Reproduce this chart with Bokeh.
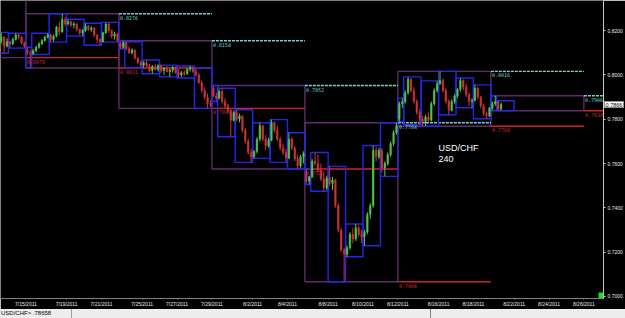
from datetime import date
from bokeh.plotting import figure
from bokeh.models import (ColumnDataSource, FixedTicker, PrintfTickFormatter, Label,
                          BoxAnnotation, Div, Range1d)
from bokeh.layouts import column
from bokeh.embed import file_html
from bokeh.resources import INLINE
from bokeh.core.properties import value

symbol = "USD/CHF"
timeframe = "240"
status_text = "USD/CHF> .78658"

# trading days shown (4-hour bars, Sunday sessions are short)
day_dates = ["2011-07-14", "2011-07-15", "2011-07-17", "2011-07-18", "2011-07-19", "2011-07-20",
             "2011-07-21", "2011-07-22", "2011-07-24", "2011-07-25", "2011-07-26", "2011-07-27",
             "2011-07-28", "2011-07-29", "2011-07-31", "2011-08-01", "2011-08-02", "2011-08-03",
             "2011-08-04", "2011-08-05", "2011-08-07", "2011-08-08", "2011-08-09", "2011-08-10",
             "2011-08-11", "2011-08-12", "2011-08-14", "2011-08-15", "2011-08-16", "2011-08-17",
             "2011-08-18", "2011-08-19", "2011-08-21", "2011-08-22"]
bars_in_day = [6, 6, 2, 6, 6, 6, 6, 6, 2, 6, 6, 6, 6, 6, 2, 6, 6, 6, 6, 6,
               2, 6, 6, 6, 6, 6, 2, 6, 6, 6, 6, 6, 2, 2]

# 4h OHLC in pips (0.xxxx * 10000)
opens = [8150, 8140, 8120, 8150, 8170, 8130,  8150, 8140, 8160, 8180, 8170, 8145,  8110, 8100,
         8095, 8110, 8125, 8140, 8155, 8170,  8180, 8160, 8175, 8215, 8195, 8250,
         8230, 8240, 8225, 8230, 8205, 8190,  8200, 8220, 8205, 8212, 8180, 8160,
         8150, 8190, 8230, 8200, 8175, 8185,  8140, 8125,
         8145, 8118, 8100, 8112, 8075, 8055,  8045, 8055, 8040, 8020, 8038, 8025,
         8042, 8020, 8030, 8015, 8022, 8035,  8012, 8000, 8010, 8005, 8025, 8032,
         8015, 8000, 7965, 7930, 7900, 7870,  7940, 7905,
         7895, 7925, 7880, 7860, 7840, 7795,  7830, 7800, 7815, 7750, 7700, 7650,
         7630, 7655, 7710, 7770, 7710, 7680,  7705, 7785, 7750, 7710, 7670, 7650,
         7625, 7710, 7670, 7620, 7590, 7630,  7560, 7520,
         7540, 7610, 7600, 7570, 7530, 7490,  7535, 7510, 7525, 7410, 7300, 7210,
         7190, 7220, 7280, 7260, 7310, 7280,  7270, 7290, 7370, 7410, 7660, 7630,
         7660, 7580, 7600, 7640, 7690, 7740,  7800, 7870,
         7880, 7920, 7980, 7930, 7880, 7830,  7800, 7790, 7810, 7795, 7870, 7930,
         7960, 7975, 7930, 7880, 7840, 7880,  7905, 7935, 7975, 7945, 7910, 7880,
         7885, 7940, 7900, 7860, 7825, 7815,  7850, 7870,  7880, 7845]
highs = [8160, 8150, 8170, 8192, 8175, 8165,  8152, 8168, 8188, 8186, 8175, 8150,  8125, 8110,
         8115, 8132, 8148, 8162, 8178, 8188,  8185, 8182, 8222, 8240, 8276, 8262,
         8251, 8245, 8240, 8235, 8210, 8208,  8233, 8225, 8220, 8215, 8185, 8165,
         8195, 8237, 8235, 8205, 8195, 8190,  8150, 8154,
         8150, 8130, 8120, 8115, 8082, 8065,  8062, 8067, 8050, 8045, 8050, 8048,
         8044, 8035, 8040, 8028, 8040, 8038,  8025, 8018, 8022, 8030, 8040, 8035,
         8031, 8008, 7975, 7945, 7915, 7885,  7952, 7920,
         7935, 7940, 7895, 7870, 7845, 7838,  7843, 7825, 7818, 7760, 7712, 7665,
         7660, 7720, 7784, 7775, 7730, 7715,  7798, 7790, 7770, 7720, 7690, 7665,
         7739, 7720, 7680, 7640, 7640, 7655,  7575, 7545,
         7620, 7650, 7640, 7600, 7560, 7545,  7587, 7540, 7530, 7420, 7310, 7220,
         7230, 7290, 7310, 7327, 7320, 7300,  7300, 7380, 7420, 7681, 7675, 7670,
         7670, 7610, 7650, 7700, 7750, 7784,  7880, 7895,
         7930, 7991, 7985, 7945, 7890, 7845,  7815, 7820, 7830, 7880, 7940, 7973,
         8016, 7985, 7940, 7890, 7890, 7915,  7940, 7986, 7980, 7960, 7920, 7895,
         7955, 7945, 7905, 7870, 7835, 7855,  7880, 7906,  7883, 7875]
lows = [8120, 8100, 8110, 8140, 8098, 8125,  8121, 8135, 8155, 8160, 8138, 8122,  8090, 8031,
        8092, 8102, 8118, 8135, 8150, 8165,  8148, 8150, 8170, 8180, 8190, 8220,
        8225, 8215, 8210, 8195, 8180, 8175,  8195, 8198, 8195, 8170, 8145, 8134,
        8148, 8185, 8190, 8165, 8160, 8150,  8118, 8120,
        8110, 8095, 8092, 8070, 8050, 8033,  8030, 8035, 8010, 8005, 8020, 8015,
        8010, 8000, 8012, 7991, 8010, 8005,  7986, 7990, 7995, 8000, 8015, 8010,
        7995, 7960, 7920, 7890, 7849, 7855,  7900, 7880,
        7890, 7870, 7850, 7830, 7721, 7790,  7790, 7785, 7740, 7690, 7640, 7605,
        7623, 7645, 7700, 7700, 7660, 7670,  7700, 7740, 7700, 7660, 7640, 7605,
        7620, 7660, 7610, 7575, 7580, 7600,  7510, 7505,
        7535, 7590, 7560, 7520, 7475, 7480,  7500, 7480, 7400, 7290, 7200, 7066,
        7179, 7210, 7240, 7250, 7270, 7240,  7229, 7280, 7350, 7400, 7610, 7620,
        7560, 7542, 7590, 7630, 7680, 7730,  7790, 7850,
        7870, 7910, 7920, 7870, 7820, 7775,  7768, 7770, 7785, 7790, 7860, 7920,
        7955, 7920, 7870, 7820, 7835, 7870,  7895, 7925, 7930, 7900, 7860, 7852,
        7880, 7890, 7850, 7815, 7802, 7810,  7840, 7860,  7838, 7840]
closes = [8140, 8120, 8150, 8170, 8130, 8150,  8140, 8160, 8180, 8170, 8145, 8130,  8100, 8095,
          8110, 8125, 8140, 8155, 8170, 8180,  8160, 8175, 8215, 8195, 8250, 8230,
          8240, 8225, 8230, 8205, 8190, 8200,  8220, 8205, 8212, 8180, 8160, 8150,
          8190, 8230, 8200, 8175, 8185, 8155,  8125, 8145,
          8118, 8100, 8112, 8075, 8055, 8045,  8055, 8040, 8020, 8038, 8025, 8042,
          8020, 8030, 8015, 8022, 8035, 8012,  8000, 8010, 8005, 8025, 8032, 8015,
          8000, 7965, 7930, 7900, 7870, 7865,  7905, 7895,
          7925, 7880, 7860, 7840, 7795, 7830,  7800, 7815, 7750, 7700, 7650, 7630,
          7655, 7710, 7770, 7710, 7680, 7705,  7785, 7750, 7710, 7670, 7650, 7625,
          7710, 7670, 7620, 7590, 7630, 7645,  7520, 7540,
          7610, 7600, 7570, 7530, 7490, 7535,  7510, 7525, 7410, 7300, 7210, 7190,
          7220, 7280, 7260, 7310, 7280, 7270,  7290, 7370, 7410, 7660, 7630, 7660,
          7580, 7600, 7640, 7690, 7740, 7770,  7870, 7880,
          7920, 7980, 7930, 7880, 7830, 7800,  7790, 7810, 7795, 7870, 7930, 7960,
          7975, 7930, 7880, 7840, 7880, 7905,  7935, 7975, 7945, 7910, 7880, 7885,
          7940, 7900, 7860, 7825, 7815, 7850,  7870, 7880,  7845, 7866]

# weekly ranges (Sunday open dates)
week_starts = ["2011-07-10", "2011-07-17", "2011-07-24", "2011-07-31",
               "2011-08-07", "2011-08-14", "2011-08-21"]
week_high = [0.8405, 0.8276, 0.8154, 0.7952, 0.7784, 0.8016, 0.7906]
week_low = [0.8078, 0.8031, 0.7849, 0.7575, 0.7066, 0.7768, 0.7838]

tick_dates = ["7/15/2011", "7/19/2011", "7/21/2011", "7/25/2011", "7/27/2011", "7/29/2011",
              "8/2/2011", "8/4/2011", "8/8/2011", "8/10/2011", "8/12/2011", "8/16/2011",
              "8/18/2011", "8/22/2011", "8/24/2011", "8/26/2011"]
price_ticks = [0.70, 0.72, 0.74, 0.76, 0.78, 0.80, 0.82]

BASE = date(2011, 7, 15)
SLOT = {0: 0, 2: 6, 3: 8, 4: 14, 5: 20, 6: 26}
WEEK = 32
Y0, Y1 = 0.69906, 0.83359
FRAME_H = 300
FIG_H = 309


def to_date(s):
    if "/" in s:
        m, d, y = s.split("/")
        return date(int(y), int(m), int(d))
    return date.fromisoformat(s)


def bar_start(s):
    weeks, rem = divmod((to_date(s) - BASE).days, 7)
    return weeks * WEEK + SLOT[rem]


P = 10000.0
xs = []
dbox = dict(left=[], right=[], top=[], bottom=[])
i = 0
for d, n in zip(day_dates, bars_in_day):
    s = bar_start(d)
    slot = 2 if to_date(d).weekday() == 6 else 6
    dbox["left"].append(s)
    dbox["right"].append(s + slot)
    dbox["top"].append(max(highs[i:i + n]) / P)
    dbox["bottom"].append(min(lows[i:i + n]) / P)
    for k in range(n):
        xs.append(s + k + 0.5)
    i += n

GREEN = "#4cc84c"
RED = "#d23232"
inc = dict(x=[], top=[], bottom=[], hi=[], lo=[])
dec = dict(x=[], top=[], bottom=[], hi=[], lo=[])
for x, op, hi, lo, cl in zip(xs, opens, highs, lows, closes):
    tgt = inc if cl >= op else dec
    tgt["x"].append(x)
    tgt["top"].append(max(op, cl) / P)
    tgt["bottom"].append(min(op, cl) / P)
    tgt["hi"].append(hi / P)
    tgt["lo"].append(lo / P)

wk_left = [bar_start(w) for w in week_starts]
wk_right = [w + WEEK for w in wk_left]

lv = dict(x0=[], x1=[], hi=[], lo=[])
tx_hi = dict(x=[], y=[], t=[])
tx_lo = dict(x=[], y=[], t=[])
for k in range(len(week_starts)):
    lv["x0"].append(wk_right[k])
    lv["x1"].append(wk_right[k] + WEEK)
    lv["hi"].append(week_high[k])
    lv["lo"].append(week_low[k])
    if Y0 < week_high[k] < Y1:
        tx_hi["x"].append(wk_right[k]); tx_hi["y"].append(week_high[k])
        tx_hi["t"].append("%.4f" % week_high[k])
    if Y0 < week_low[k] < Y1:
        tx_lo["x"].append(wk_right[k]); tx_lo["y"].append(week_low[k])
        tx_lo["t"].append("%.4f" % week_low[k])

p = figure(width=625, height=FIG_H, output_backend="svg", toolbar_location=None,
           x_range=Range1d(-2.75, 204.75), y_range=Range1d(Y0, Y1),
           y_axis_location="right", min_border_left=0, min_border_top=0,
           min_border_right=22, min_border_bottom=FIG_H - FRAME_H)
p.background_fill_color = "black"
p.border_fill_color = "black"
p.outline_line_color = None
p.grid.visible = False

# weekly boxes
p.quad(left=wk_left, right=wk_right, top=week_high, bottom=week_low,
       fill_color=None, line_color="#5e2c68", line_width=1.4)
# previous-week high / low levels
p.segment(x0=lv["x0"], x1=lv["x1"], y0=lv["lo"], y1=lv["lo"], line_color="#c82828", line_width=1.4)
p.segment(x0=lv["x0"], x1=lv["x1"], y0=lv["hi"], y1=lv["hi"], line_color="#78d2d2",
          line_width=1.4, line_dash="3 1")
# daily boxes
p.quad(source=ColumnDataSource(dbox), left="left", right="right", top="top", bottom="bottom",
       fill_color=None, line_color="#2626e8", line_width=1.4)
# candles
for src, col in ((inc, GREEN), (dec, RED)):
    cds = ColumnDataSource(src)
    p.segment(x0="x", x1="x", y0="lo", y1="hi", source=cds, line_color=col, line_width=1)
    p.vbar(x="x", width=0.5, top="top", bottom="bottom", source=cds,
           fill_color=col, line_color=col, line_width=0.6)

mono = value("DejaVu Sans Mono")
p.text(x="x", y="y", text="t", source=ColumnDataSource(tx_hi), text_color="#78d2d2",
       text_font=mono, text_font_size="5px", text_baseline="top", x_offset=1, y_offset=2)
p.text(x="x", y="y", text="t", source=ColumnDataSource(tx_lo), text_color="#c83030",
       text_font=mono, text_font_size="5px", text_baseline="top", x_offset=1, y_offset=2)

p.add_layout(Label(x=438, y=146, x_units="screen", y_units="screen", text=symbol,
                   text_color="white", text_font="Liberation Sans", text_font_size="9px"))
p.add_layout(Label(x=438, y=137, x_units="screen", y_units="screen", text=timeframe,
                   text_color="white", text_font="Liberation Sans", text_font_size="9px"))

p.add_layout(BoxAnnotation(left=598, right=603, bottom=0, top=6, left_units="screen",
                           right_units="screen", bottom_units="screen", top_units="screen",
                           fill_color="#20e020", fill_alpha=1, line_color=None))

ya = p.yaxis[0]
ya.ticker = FixedTicker(ticks=price_ticks)
ya.formatter = PrintfTickFormatter(format="%.4f")
ya.axis_line_color = "#c8c8c8"
ya.major_tick_line_color = "#c8c8c8"
ya.major_tick_out = 2
ya.major_tick_in = 0
ya.minor_tick_line_color = None
ya.major_label_text_color = "#e8e8e8"
ya.major_label_text_font = "Liberation Sans"
ya.major_label_text_font_size = "5px"
ya.major_label_standoff = 2

xa = p.xaxis[0]
tick_pos = [bar_start(t) + 6 for t in tick_dates]
xa.ticker = FixedTicker(ticks=tick_pos)
xa.major_label_overrides = {tp: t for tp, t in zip(tick_pos, tick_dates)}
xa.axis_line_color = "#808080"
xa.major_tick_line_color = "#808080"
xa.major_tick_out = 1
xa.major_tick_in = 0
xa.minor_tick_line_color = None
xa.major_label_text_color = "#e8e8e8"
xa.major_label_text_font = "Liberation Sans"
xa.major_label_text_font_size = "5px"
xa.major_label_standoff = 1

# current-price tag on the price scale (sits in the axis margin, outside the clipped frame)
last = closes[-1] / P
tag_y = round((Y1 - last) * FRAME_H / (Y1 - Y0))
tag_top = tag_y - 4 - FIG_H
tag = ('<div style="position:absolute;left:604px;top:%dpx;width:20px;height:7px;'
       'background:white;color:black;font-size:5.5px;line-height:7px;text-align:center;'
       'border:1px solid #909090;box-sizing:border-box;">%.4f</div>' % (tag_top, last))

status = Div(text=(
    '<div style="position:relative;display:flex;height:9px;">'
    '<div style="width:72px;border-right:1px solid #a0a0a0;padding-left:1px;">' + status_text + '</div>'
    '<div style="width:358px;"></div>'
    '<div style="flex:1;border-left:1px solid #808080;border-top:1px solid #808080;"></div>'
    + tag + '</div>'),
    width=625, height=9, margin=(0, 0, 0, 0),
    styles={"background-color": "#ededed", "font-family": "Liberation Sans", "font-size": "6px",
            "line-height": "9px", "color": "black", "overflow": "visible", "white-space": "nowrap"})

layout = column(p, status, spacing=0)
open("out.html", "w").write(file_html(layout, INLINE))
